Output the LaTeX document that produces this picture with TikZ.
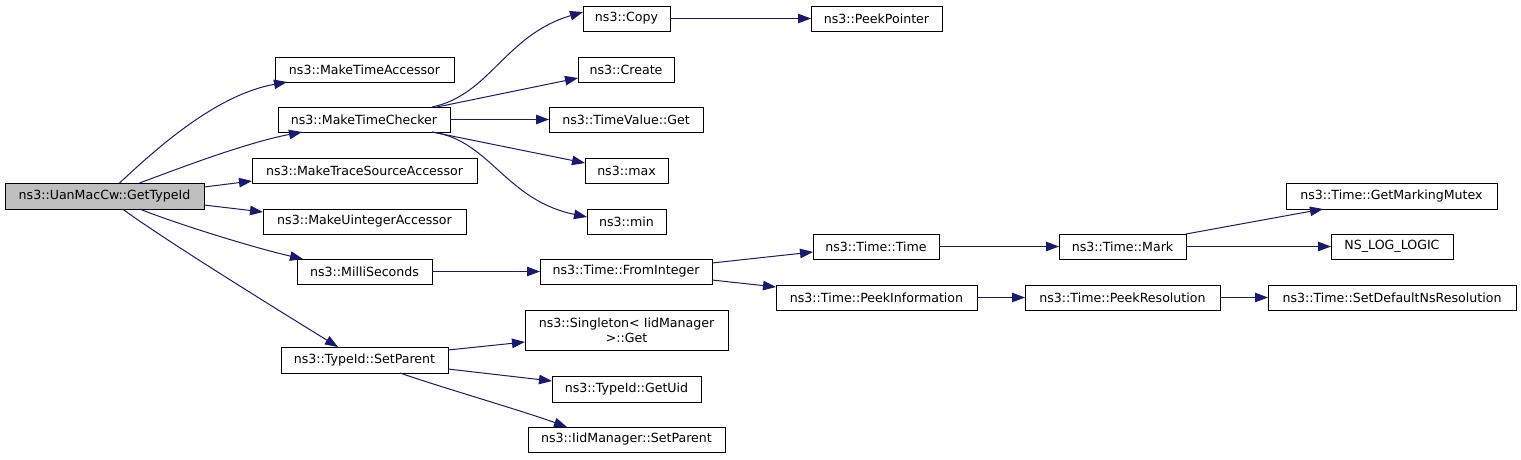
\documentclass[tikz,border=0pt]{standalone}
\usepackage{fontspec}
\setmainfont{DejaVu Sans}
\usetikzlibrary{arrows.meta}
\definecolor{edgecol}{HTML}{191970}
\definecolor{rootfill}{HTML}{BFBFBF}
\begin{document}
\begin{tikzpicture}[x=1pt,y=-1pt,
  fn/.style={draw=black, line width=1pt, inner sep=0pt, outer sep=0pt, minimum height=25pt,
    font=\fontsize{12.6pt}{15pt}\selectfont, align=center},
  root/.style={fn, fill=rootfill},
  call/.style={draw=edgecol, line width=1pt, -{Triangle[length=13pt,width=9.5pt]}, fill=none}]
\useasboundingbox (0,0) rectangle (1521,459);
% nodes
\node[root, minimum width=199pt, minimum height=26pt] (gt) at (104.5,196) {ns3::UanMacCw::GetTypeId};
\node[fn, minimum width=179pt] (mta) at (364.5,69.5) {ns3::MakeTimeAccessor};
\node[fn, minimum width=172pt] (mtc) at (364,119.5) {ns3::MakeTimeChecker};
\node[fn, minimum width=225pt] (mtsa) at (364.5,170.5) {ns3::MakeTraceSourceAccessor};
\node[fn, minimum width=203pt] (mua) at (364.5,221.5) {ns3::MakeUintegerAccessor};
\node[fn, minimum width=135pt] (ms) at (364.5,271.5) {ns3::MilliSeconds};
\node[fn, minimum width=167pt, minimum height=26pt] (tsp) at (364.5,360) {ns3::TypeId::SetParent};
\node[fn, minimum width=87pt] (copy) at (626.5,18.5) {ns3::Copy};
\node[fn, minimum width=131pt] (pp) at (876.5,18.5) {ns3::PeekPointer};
\node[fn, minimum width=96pt] (create) at (626,69.5) {ns3::Create};
\node[fn, minimum width=154pt] (tvg) at (626,119.5) {ns3::TimeValue::Get};
\node[fn, minimum width=83pt] (max) at (626.5,170.5) {ns3::max};
\node[fn, minimum width=79pt] (min) at (626.5,221.5) {ns3::min};
\node[fn, minimum width=172pt] (fi) at (626,271.5) {ns3::Time::FromInteger};
\node[fn, minimum width=203pt, minimum height=40pt] (sing) at (626.5,330) {ns3::Singleton\textless{} IidManager\\\textgreater::Get};
\node[fn, minimum width=149pt, minimum height=26pt] (guid) at (626.5,389) {ns3::TypeId::GetUid};
\node[fn, minimum width=197pt] (ims) at (626.5,439.5) {ns3::IidManager::SetParent};
\node[fn, minimum width=126pt] (tt) at (876,246.5) {ns3::Time::Time};
\node[fn, minimum width=201pt] (pi) at (876.5,297.5) {ns3::Time::PeekInformation};
\node[fn, minimum width=127pt] (mark) at (1122.5,246.5) {ns3::Time::Mark};
\node[fn, minimum width=195pt] (pr) at (1122.5,297.5) {ns3::Time::PeekResolution};
\node[fn, minimum width=211pt, minimum height=26pt] (gmm) at (1391.5,196) {ns3::Time::GetMarkingMutex};
\node[fn, minimum width=122pt] (nll) at (1392,246.5) {NS\_LOG\_LOGIC};
\node[fn, minimum width=248pt] (sdr) at (1392,297.5) {ns3::Time::SetDefaultNsResolution};
% edges from GetTypeId
\draw[call] ([xshift=15pt]gt.north) .. controls (155,150) and (215,95) .. ([xshift=12pt]mta.south west);
\draw[call] ([xshift=35pt]gt.north) .. controls (180,168) and (245,143) .. ([xshift=24pt]mtc.south west);
\draw[call] ([yshift=-4pt]gt.north east) -- ([yshift=2pt]mtsa.south west);
\draw[call] ([yshift=4pt]gt.south east) -- ([yshift=-3pt]mua.north west);
\draw[call] ([xshift=35pt]gt.south) .. controls (180,225) and (255,248) .. ([xshift=6pt]ms.north west);
\draw[call] ([xshift=18pt]gt.south) .. controls (165,240) and (270,305) .. ([xshift=57pt]tsp.north west);
% edges from MakeTimeChecker
\draw[call] ([xshift=-18pt]mtc.north east) .. controls (490,95) and (505,35) .. ([yshift=-6pt]copy.north west);
\draw[call] ([xshift=-13pt]mtc.north east) -- ([yshift=4pt]create.south west);
\draw[call] (mtc.east) -- (tvg.west);
\draw[call] ([xshift=-18pt]mtc.south east) -- ([yshift=-5pt]max.north west);
\draw[call] ([xshift=-18pt]mtc.south east) .. controls (490,140) and (505,200) .. ([yshift=-8pt]min.north west);
% others
\draw[call] (copy.east) -- (pp.west);
\draw[call] (ms.east) -- (fi.west);
\draw[call] ([yshift=-4pt]fi.north east) -- ([yshift=-5.5pt]tt.west);
\draw[call] ([yshift=4pt]fi.south east) -- ([yshift=-2pt]pi.north west);
\draw[call] (tt.east) -- (mark.west);
\draw[call] (pi.east) -- (pr.west);
\draw[call] (mark.north east) -- ([xshift=37pt]gmm.south west);
\draw[call] (mark.east) -- (nll.west);
\draw[call] (pr.east) -- (sdr.west);
\draw[call] ([yshift=-3pt]tsp.north east) -- ([yshift=8pt]sing.south west);
\draw[call] ([yshift=4pt]tsp.south east) -- ([yshift=8pt]guid.west);
\draw[call] ([xshift=35.5pt]tsp.south) .. controls (440,387) and (520,410) .. ([xshift=39pt]ims.north west);
\end{tikzpicture}
\end{document}
